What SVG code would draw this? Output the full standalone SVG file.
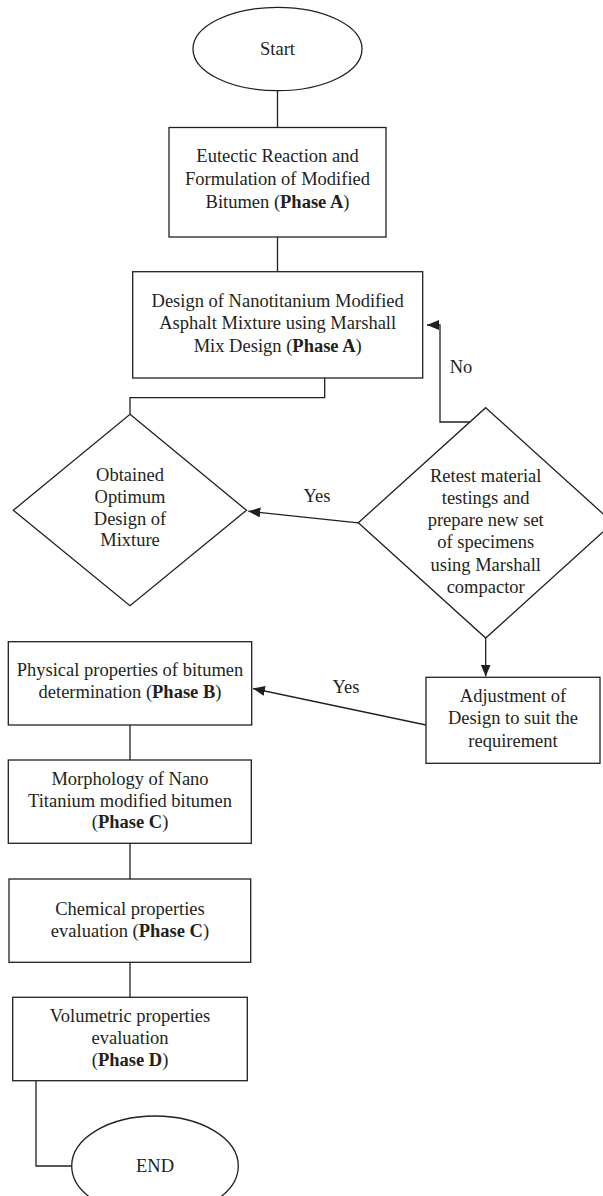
<svg xmlns="http://www.w3.org/2000/svg" width="603" height="1196" viewBox="0 0 603 1196">
<style>
.s{fill:#fff;stroke:#231f20;stroke-width:1.3}
.c{fill:none;stroke:#231f20;stroke-width:1.3}
text{font-family:"Liberation Serif","Times New Roman",serif;font-size:18.5px;fill:#231f20;text-anchor:middle}
.b{font-weight:bold}
</style>
<defs>
<marker id="ah" markerUnits="userSpaceOnUse" markerWidth="12" markerHeight="10" refX="12" refY="5" orient="auto">
<path d="M0,0 L12,5 L0,10 z" fill="#231f20"/>
</marker>
</defs>
<rect width="603" height="1196" fill="#fff"/>
<g id="connectors">
<line class="c" x1="277.5" y1="91" x2="277.5" y2="127.5"/>
<line class="c" x1="277.5" y1="237" x2="277.5" y2="271.7"/>
<polyline class="c" points="324.7,378 324.7,397.7 130,397.7 130,414.3"/>
<polyline class="c" points="470,422 440,422 440,325 427,325" marker-end="url(#ah)"/>
<line class="c" x1="358.3" y1="522.8" x2="248.3" y2="511.2" marker-end="url(#ah)"/>
<line class="c" x1="485.7" y1="638" x2="485.7" y2="676.5" marker-end="url(#ah)"/>
<line class="c" x1="426" y1="725" x2="253" y2="688.5" marker-end="url(#ah)"/>
<line class="c" x1="130" y1="725" x2="130" y2="760"/>
<line class="c" x1="130" y1="843.3" x2="130" y2="879"/>
<line class="c" x1="130" y1="962.3" x2="130" y2="997.3"/>
<polyline class="c" points="36,1080.7 36,1166 71.7,1166"/>
<text x="317" y="502">Yes</text>
<text x="461" y="373">No</text>
<text x="346" y="692.7">Yes</text>
</g>
<g id="start">
<ellipse class="s" cx="277.5" cy="49" rx="84.5" ry="41.7"/>
<text x="277.5" y="55">Start</text>
</g>
<g id="box1">
<rect class="s" x="169" y="127.5" width="217" height="109.5"/>
<text x="277.5" y="162.3">Eutectic Reaction and</text>
<text x="277.5" y="185">Formulation of Modified</text>
<text x="277.5" y="207.5">Bitumen (<tspan class="b">Phase A</tspan>)</text>
</g>
<g id="box2">
<rect class="s" x="132.7" y="271.7" width="290" height="106.3"/>
<text x="277.7" y="306.7">Design of Nanotitanium Modified</text>
<text x="277.7" y="329.2">Asphalt Mixture using Marshall</text>
<text x="277.7" y="351.7">Mix Design (<tspan class="b">Phase A</tspan>)</text>
</g>
<g id="optimum">
<polygon class="s" points="130,414.3 246.5,510.3 130,605.7 13.3,510.3"/>
<text x="130" y="481">Obtained</text>
<text x="130" y="502.8">Optimum</text>
<text x="130" y="524.6">Design of</text>
<text x="130" y="546.4">Mixture</text>
</g>
<g id="retest">
<polygon class="s" points="485.7,407.7 613,522.8 485.7,638 358.3,522.8"/>
<text x="485.7" y="481.5">Retest material</text>
<text x="485.7" y="503.8">testings and</text>
<text x="485.7" y="526.1">prepare new set</text>
<text x="485.7" y="548.4">of specimens</text>
<text x="485.7" y="570.7">using Marshall</text>
<text x="485.7" y="593">compactor</text>
</g>
<g id="adjust">
<rect class="s" x="426" y="677.3" width="174" height="86"/>
<text x="513" y="701.7">Adjustment of</text>
<text x="513" y="724.2">Design to suit the</text>
<text x="513" y="746.7">requirement</text>
</g>
<g id="physical">
<rect class="s" x="8.3" y="641.7" width="243.4" height="83.3"/>
<text x="130" y="675.7">Physical properties of bitumen</text>
<text x="130" y="698.3">determination (<tspan class="b">Phase B</tspan>)</text>
</g>
<g id="morphology">
<rect class="s" x="8.3" y="760" width="243" height="83.3"/>
<text x="130" y="785">Morphology of Nano</text>
<text x="130" y="806.7">Titanium modified bitumen</text>
<text x="130" y="828.4">(<tspan class="b">Phase C</tspan>)</text>
</g>
<g id="chemical">
<rect class="s" x="9" y="879" width="241.7" height="83.3"/>
<text x="130" y="915">Chemical properties</text>
<text x="130" y="936.7">evaluation (<tspan class="b">Phase C</tspan>)</text>
</g>
<g id="volumetric">
<rect class="s" x="12.7" y="997.3" width="234.6" height="83.4"/>
<text x="130" y="1021.7">Volumetric properties</text>
<text x="130" y="1044">evaluation</text>
<text x="130" y="1066.3">(<tspan class="b">Phase D</tspan>)</text>
</g>
<g id="end">
<ellipse class="s" cx="155" cy="1166" rx="83.3" ry="50"/>
<text x="155" y="1171.7">END</text>
</g>
</svg>
